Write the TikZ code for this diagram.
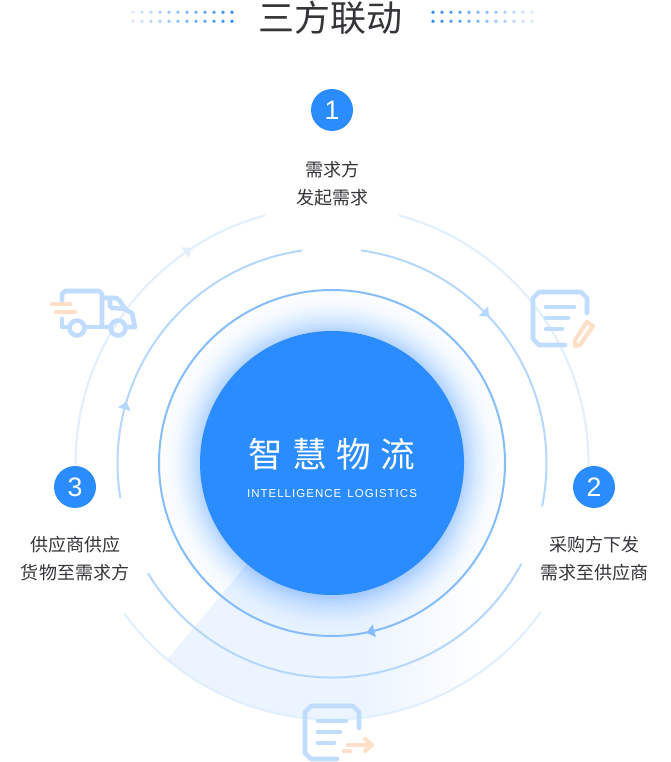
\documentclass[tikz,border=0pt]{standalone}
\usepackage{fontspec}
\setmainfont{Liberation Sans}
\newfontfamily\cjk{Noto Sans CJK SC}
\usetikzlibrary{positioning}
\definecolor{mainblue}{HTML}{2B8CFF}
\definecolor{ringone}{HTML}{85BCFC}
\definecolor{ringtwo}{HTML}{B6D7FD}
\definecolor{ringthree}{HTML}{E0EEFE}
\definecolor{iconblue}{HTML}{C0DCFE}
\definecolor{iconorange}{HTML}{FFDFC7}
\definecolor{fanblue}{HTML}{EBF4FF}
\definecolor{inktext}{HTML}{333538}
\pgfdeclareradialshading{glowshade}{\pgfpointorigin}{rgb(0bp)=(0.70,0.83,1); rgb(18.7bp)=(0.70,0.83,1); rgb(20.5bp)=(0.85,0.92,1); rgb(22.5bp)=(0.96,0.98,1); rgb(25bp)=(1,1,1); rgb(50bp)=(1,1,1)}
\pgfdeclarehorizontalshading{fanshade}{100bp}{color(0bp)=(fanblue); color(50bp)=(fanblue); color(66bp)=(white); color(100bp)=(white)}
% arc on a ring: radius, from, to, colour
\newcommand{\ringarc}[4]{\draw[ring,#4] (centre) ++(#2:#1) arc[start angle=#2,end angle=#3,radius=#1];}
% small tip on a ring: radius, angle, colour
\newcommand{\ringtip}[3]{\fill[#3,shift={(centre)},rotate=#2] (#1-6.5,1) -- (#1+6.5,1) -- (#1,-7) -- cycle;}
\begin{document}
\begin{tikzpicture}
  [
    x=0.75pt, y=0.75pt,
    screen/.style={shift={(0,762)},yscale=-1},
    ring/.style={line width=1.5pt},
    stepnum/.style={circle, fill=mainblue, text=white, minimum size=31.5pt, inner sep=0pt, font=\fontsize{20}{20}\selectfont},
    steptext/.style={text=inktext, align=center, inner sep=0pt, font=\cjk\fontsize{13.5}{21}\selectfont},
    icon/.style={draw=iconblue, line width=3.4pt, line cap=round, line join=round},
    iconwarm/.style={draw=iconorange, line width=3.2pt, line cap=round, line join=round}
  ]
  \useasboundingbox (0,0) rectangle (670,762);
  \coordinate (centre) at (332,299);

  % fan under the rings
  \shade[shading=fanshade]
    (centre) -- ++(230:256.5) arc[start angle=230,end angle=330,radius=256.5] -- cycle;
  \shade[shading=glowshade, blend mode=multiply] (centre) circle (176);

  % rings
  \draw[ring,ringone] (centre) circle (173);
  \ringarc{214.5}{82.2}{-11.7}{ringtwo}
  \ringarc{214.5}{-28}{-149.1}{ringtwo}
  \ringarc{214.5}{189.4}{98}{ringtwo}
  \ringarc{256.5}{74.9}{-2}{ringthree}
  \ringarc{256.5}{-35.4}{-144}{ringthree}
  \ringarc{256.5}{180.5}{105.1}{ringthree}
  \ringtip{173}{-76.2}{ringone}
  \ringtip{214.5}{44.8}{ringtwo}
  \ringtip{214.5}{165.2}{ringtwo}
  \ringtip{256.5}{124.7}{ringthree}

  % title and dots
  \node (title) at (330.5,744) [text=inktext, inner sep=0pt, font=\cjk\fontsize{27}{27}\selectfont] {三方联动};
  \begin{scope}[screen]
    \foreach \i in {0,...,11} {
      \pgfmathsetmacro{\fade}{18+\i*7.4}
      \fill[mainblue!\fade!white] (133+\i*9,12.3) circle (1.8) (133+\i*9,21.3) circle (1.8);
      \fill[mainblue!\fade!white] (532-\i*9,12.3) circle (1.8) (532-\i*9,21.3) circle (1.8);
    }
  \end{scope}

  % centre
  \node (core) at (centre) [circle, fill=mainblue, minimum size=198pt, inner sep=0pt] {};
  \node (name) at (332,308) [text=white, inner sep=0pt, font=\cjk\fontsize{26}{26}\selectfont] {智\hspace{7pt}慧\hspace{7pt}物\hspace{7pt}流};
  \node (nameen) [below=14.5pt of name, text=white, inner sep=0pt, font=\fontsize{8.6}{10}\selectfont\addfontfeature{LetterSpace=9}] {INTELLIGENCE\hspace{1.5pt} LOGISTICS};

  % steps
  \node (one) at (332,652) [stepnum] {1};
  \node (onetext) [steptext, below=22pt of one] {需求方\\发起需求};
  \node (two) at (594,275) [stepnum] {2};
  \node (twotext) [steptext, below=21pt of two] {采购方下发\\需求至供应商};
  \node (three) at (75,275) [stepnum] {3};
  \node (threetext) [steptext, below=21pt of three] {供应商供应\\货物至需求方};

  % truck
  \begin{scope}[screen]
    \draw[icon] (62,300) -- (62,294) -- ++(3,-3) -- (99,291) -- ++(3,3) -- (102,327);
    \draw[icon] (62,319) -- (62,327) -- (68,327);
    \draw[icon] (87,327) -- (108,327);
    \draw[icon] (77,328) circle (7.5);
    \draw[icon] (118,328) circle (7.5);
    \draw[icon] (102,298) -- (116,298) -- ++(3,2) -- (126,310) -- ++(6,3) -- (135,327) -- (128,327);
    \draw[icon] (110,299) -- (110,306) -- ++(2,2) -- (126,309);
    \draw[iconwarm] (52,304) -- (70,304);
    \draw[iconwarm] (56,312) -- (75,312);
  \end{scope}

  % note with pencil
  \begin{scope}[screen]
    \draw[icon] (587,313) -- (587,298) -- ++(-6,-6) -- (539,292) -- ++(-6,6) -- (533,339) -- ++(6,6) -- (565,345);
    \draw[icon] (546,307) -- (574,307);
    \draw[icon] (546,318) -- (568,318);
    \draw[icon] (546,329) -- (562,329);
    \draw[iconwarm] (587,322) -- (593,326) -- (580,345) -- (575,346) -- (575,340) -- cycle;
  \end{scope}

  % note with arrow
  \begin{scope}[screen]
    \draw[icon] (359,728) -- (359,712) -- ++(-6,-6) -- (311,706) -- ++(-6,6) -- (305,753) -- ++(6,6) -- (337,759);
    \draw[icon] (318,721) -- (346,721);
    \draw[icon] (318,732) -- (340,732);
    \draw[icon] (318,743) -- (334,743);
    \draw[iconwarm] (348,745) -- (371,745);
    \draw[iconwarm] (365,739) -- (372,745) -- (365,751);
    \draw[iconwarm] (344,751) -- (350,751);
  \end{scope}
\end{tikzpicture}
\end{document}
